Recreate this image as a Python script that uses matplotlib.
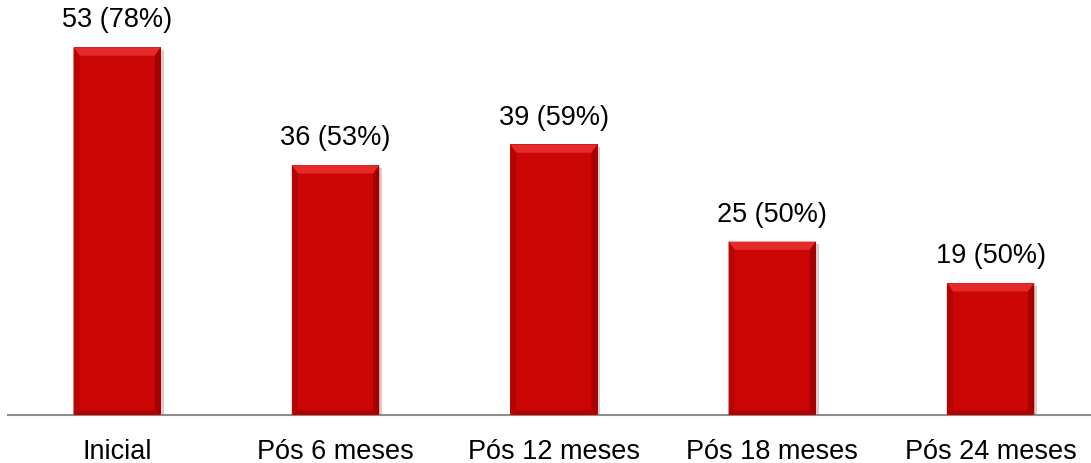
import matplotlib.pyplot as plt
from matplotlib.patches import Polygon
import matplotlib.patheffects as pe

categories = ["Inicial", "Pós 6 meses", "Pós 12 meses", "Pós 18 meses", "Pós 24 meses"]
counts = [53, 36, 39, 25, 19]
percents = [78, 53, 59, 50, 50]

plt.rcParams["font.family"] = ["Liberation Sans", "DejaVu Sans"]

fig = plt.figure(figsize=(10.91, 4.63), dpi=100)
ax = fig.add_axes([8 / 1091, 48 / 463, 1083 / 1091, 0.899])

bars = ax.bar(range(len(categories)), counts, width=0.4, color="#cc0505",
              zorder=2, path_effects=[pe.SimplePatchShadow(offset=(2, -2), alpha=0.2), pe.Normal()])

# fake bevel: trapezoids on each edge of the bar
for b in bars:
    x0, w, h = b.get_x(), b.get_width(), b.get_height()
    x1 = x0 + w
    dx = w * 0.07
    dy = 1.2
    bevels = [
        ([(x0, h), (x1, h), (x1 - dx, h - dy), (x0 + dx, h - dy)], "#e42a2a"),
        ([(x0, 0), (x0, h), (x0 + dx, h - dy), (x0 + dx, dy * 0.6)], "#b80303"),
        ([(x1, 0), (x1, h), (x1 - dx, h - dy), (x1 - dx, dy * 0.6)], "#a50000"),
        ([(x0, 0), (x1, 0), (x1 - dx, dy * 0.6), (x0 + dx, dy * 0.6)], "#b30000"),
    ]
    for pts, col in bevels:
        ax.add_patch(Polygon(pts, closed=True, color=col, lw=0, zorder=3))

for b, c, p in zip(bars, counts, percents):
    ax.annotate(f"{c} ({p}%)", (b.get_x() + b.get_width() / 2, b.get_height()),
                xytext=(0, 10), textcoords="offset points", ha="center", va="bottom",
                fontsize=19.5)

ax.set_xlim(-0.5, 4.46)
ax.set_ylim(0, 60)
ax.set_xticks(range(len(categories)))
ax.set_xticklabels(categories, fontsize=19.5)
ax.tick_params(axis="x", length=0, pad=17)
ax.set_yticks([])
for side in ["top", "right", "left"]:
    ax.spines[side].set_visible(False)
ax.spines["bottom"].set_color("#8c8c8c")
ax.spines["bottom"].set_linewidth(1.5)

fig.savefig("out.png", dpi=100)
